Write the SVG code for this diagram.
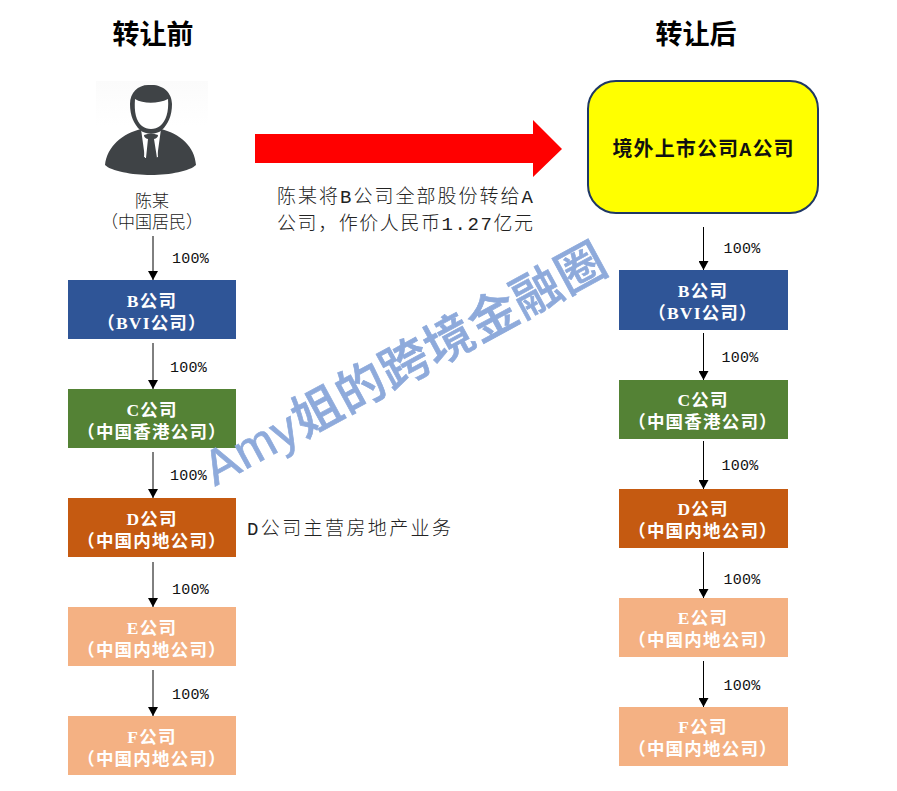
<svg xmlns="http://www.w3.org/2000/svg" width="897" height="791" viewBox="0 0 897 791">
<style>
text{font-family:"Liberation Mono","Noto Sans CJK SC",monospace;text-anchor:middle}
.title{font-size:27px;font-weight:bold;font-family:"Noto Sans CJK SC",sans-serif;fill:#000}
.co{font-size:17.5px;font-weight:bold;fill:#fff;letter-spacing:1.2px;font-family:"Liberation Serif","Noto Sans CJK SC",serif}
.note{font-size:19px;fill:#222;font-weight:300}
.who{font-size:17px;fill:#222;font-weight:300}
.pct{font-size:15px;fill:#111;letter-spacing:.2px}
.conn{stroke:#000;stroke-width:1;fill:none;marker-end:url(#ah)}
.blue{fill:#2F5597}.green{fill:#548235}.orange{fill:#C55A11}.light{fill:#F4B183}
</style>
<defs>
<marker id="ah" markerUnits="userSpaceOnUse" markerWidth="10" markerHeight="10" refX="9" refY="5" orient="auto"><path d="M0 0L9 5L0 10Z" fill="#000"/></marker>
<linearGradient id="bg" x1="0" y1="0" x2="0" y2="1"><stop offset="0" stop-color="#fbfbfb"/><stop offset="1" stop-color="#fff"/></linearGradient>
</defs>
<rect width="897" height="791" fill="#fff"/>
<text class="title" x="153" y="44">转让前</text>
<text class="title" x="696" y="44">转让后</text>

<g id="person">
<rect x="96" y="81" width="112" height="45" fill="url(#bg)"/>
<path fill="#3F4346" d="M105 165C107 147 122 133 142 129L147 130L144 157L151 158L158 157L155 130L160 129C180 133 195 147 196 165C190 171 170 175 151 175C132 175 111 171 105 165Z"/>
<path fill="#fff" d="M141 129L148 133H154L161 129L157 158H145Z"/>
<path fill="#3F4346" d="M144 135Q151 132 158 135Q158 138 154 139L157 158H146L148 139Q144 138 144 135Z"/>
<path fill="#3F4346" d="M150 85C139 84 130 92 130 104C130 116 134 124 140 130C146 135 156 135 162 130C168 124 172 116 172 104C172 92 162 84 150 85Z"/>
<path fill="#fff" d="M135 99C143 104 158 104 168 99C169 112 166 121 160 126C155 130 147 130 142 126C136 121 134 112 135 99Z"/>
<text class="who" x="152" y="207">陈某</text>
<text class="who" x="152" y="228">（中国居民）</text>
</g>

<g id="connectors">
<path class="conn" d="M153 236V280"/>
<path class="conn" d="M153 343V389"/>
<path class="conn" d="M153 452V498"/>
<path class="conn" d="M153 562V607"/>
<path class="conn" d="M153 670V716"/>
<path class="conn" d="M703.5 227V270"/>
<path class="conn" d="M703.5 333V380"/>
<path class="conn" d="M703.5 441V489"/>
<path class="conn" d="M703.5 552V598"/>
<path class="conn" d="M703.5 661V707"/>
<path fill="#f00" d="M255 134H533V120L562 149L533 177V163H255Z"/>
</g>
<g id="pct-labels">
<text class="pct" x="190.500" y="263">100%</text>
<text class="pct" x="188.500" y="372">100%</text>
<text class="pct" x="188.500" y="480">100%</text>
<text class="pct" x="190.500" y="594">100%</text>
<text class="pct" x="190.500" y="699">100%</text>
<text class="pct" x="742" y="253">100%</text>
<text class="pct" x="740" y="362">100%</text>
<text class="pct" x="740" y="470">100%</text>
<text class="pct" x="742" y="584">100%</text>
<text class="pct" x="742" y="690">100%</text>
</g>

<g id="node-a">
<rect x="588" y="81" width="230" height="132" rx="28" fill="#FF0" stroke="#1F3864" stroke-width="2"/>
<text x="703" y="156" font-size="20" font-weight="bold" fill="#111" textLength="181" lengthAdjust="spacing">境外上市公司A公司</text>
</g>

<g id="left-b"><rect class="blue" x="68" y="280" width="168" height="59"/><text class="co" x="152" y="307">B公司</text><text class="co" x="152" y="329">（BVI公司）</text></g>
<g id="left-c"><rect class="green" x="68" y="389" width="168" height="59"/><text class="co" x="152" y="416">C公司</text><text class="co" x="152" y="438">（中国香港公司）</text></g>
<g id="left-d"><rect class="orange" x="68" y="498" width="168" height="59"/><text class="co" x="152" y="525">D公司</text><text class="co" x="152" y="547">（中国内地公司）</text></g>
<g id="left-e"><rect class="light" x="68" y="607" width="168" height="59"/><text class="co" x="152" y="634">E公司</text><text class="co" x="152" y="656">（中国内地公司）</text></g>
<g id="left-f"><rect class="light" x="68" y="716" width="168" height="59"/><text class="co" x="152" y="743">F公司</text><text class="co" x="152" y="765">（中国内地公司）</text></g>

<g id="right-b"><rect class="blue" x="619" y="270" width="169" height="60"/><text class="co" x="703" y="297">B公司</text><text class="co" x="703" y="319">（BVI公司）</text></g>
<g id="right-c"><rect class="green" x="619" y="380" width="169" height="59"/><text class="co" x="703" y="406">C公司</text><text class="co" x="703" y="428">（中国香港公司）</text></g>
<g id="right-d"><rect class="orange" x="619" y="489" width="169" height="59"/><text class="co" x="703" y="515">D公司</text><text class="co" x="703" y="537">（中国内地公司）</text></g>
<g id="right-e"><rect class="light" x="619" y="598" width="169" height="59"/><text class="co" x="703" y="624">E公司</text><text class="co" x="703" y="646">（中国内地公司）</text></g>
<g id="right-f"><rect class="light" x="619" y="707" width="169" height="59"/><text class="co" x="703" y="733">F公司</text><text class="co" x="703" y="755">（中国内地公司）</text></g>

<g id="notes">
<text class="note" x="405" y="203" textLength="256" lengthAdjust="spacing">陈某将B公司全部股份转给A</text>
<text class="note" x="405" y="230" textLength="256" lengthAdjust="spacing">公司，作价人民币1.27亿元</text>
<text class="note" x="349" y="535" textLength="204" lengthAdjust="spacing">D公司主营房地产业务</text>
</g>
<text x="405" y="381" transform="rotate(-28.5 405 365)" font-size="49" font-weight="500" fill="#8EAADB" stroke="#8EAADB" stroke-width=".7" textLength="450" lengthAdjust="spacing" style="font-family:'Liberation Sans','Noto Sans CJK SC',sans-serif">Amy姐的跨境金融圈</text>
</svg>
